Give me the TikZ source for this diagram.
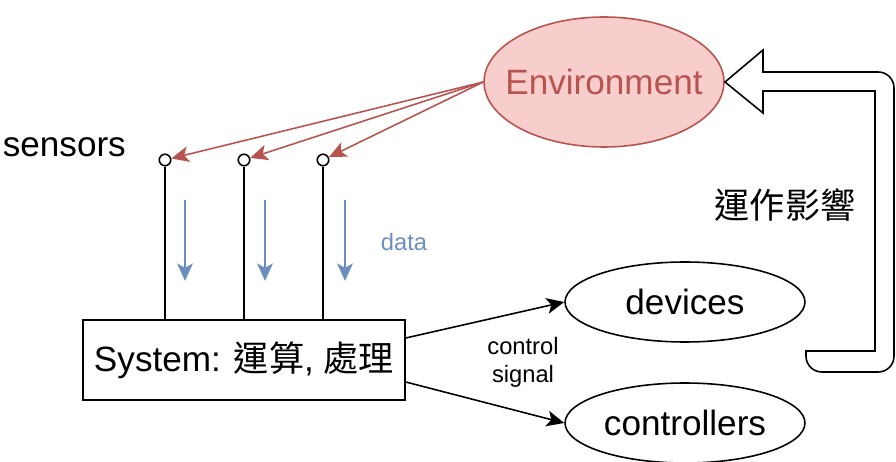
\documentclass[tikz,border=0pt]{standalone}
\usepackage{fontspec}
\setmainfont{Liberation Sans}
\newfontfamily\cjk{Noto Sans CJK TC}
\usepackage{tikz}
\usetikzlibrary{arrows.meta,positioning,calc,shapes.geometric}
\definecolor{envred}{HTML}{B85450}
\definecolor{envfill}{HTML}{F8CECC}
\definecolor{datablue}{HTML}{6C8EBF}

\begin{document}
\begin{tikzpicture}[x=0.02cm,y=-0.02cm,line width=0.9pt,>={Stealth[length=10pt,width=9pt,inset=2.5pt]},
  blob/.style={ellipse,draw,inner sep=0pt,minimum width=4.8cm,minimum height=1.6cm,font=\fontsize{20}{24}\selectfont},
  sensor/.style={circle,draw,fill=white,inner sep=0pt,minimum size=0.23cm,line width=0.9pt},
  big/.style={font=\fontsize{20}{24}\selectfont},
  small/.style={font=\fontsize{13.5}{16}\selectfont,align=center}]

\useasboundingbox (0,0) rectangle (896,462);

% environment
\node[blob,fill=envfill,draw=envred,text=envred,inner xsep=-0.35cm,minimum height=2.6cm] (env) at (604,82) {Environment};

% system and outputs
\node[draw,big,inner sep=0pt,minimum width=6.44cm,minimum height=1.6cm] (sys) at (244,360) {System: {\cjk 運算}, {\cjk 處理}};
\node[blob] (dev) at (685,302) {devices};
\node[blob] (ctrl) at (685,423) {controllers};

% sensors
\node[big,anchor=west,inner sep=0pt] (sens-label) at (2,147) {sensors};
\node[sensor] (s1) at (165,160) {};
\node[sensor] (s2) at (244,160) {};
\node[sensor] (s3) at (323,160) {};

\foreach \s in {s1,s2,s3}{
  \draw (\s.south) -- (\s |- sys.north);
  \draw[->,envred] (env.west) -- (\s);
}

% data flow
\foreach \x in {185,265,345}
  \draw[->,datablue] (\x,200) -- (\x,281);
\node[small,text=datablue] (data) at (404,242) {data};

% control signal
\draw[->] ($(sys.east)+(0,-22)$) -- (dev.west);
\draw[->] ($(sys.east)+(0,22)$) -- (ctrl.west);
\node[small] (sig) at (523,362) {control\\signal};

% feedback arrow
\draw (806,351) -- (875,351) -- (875,91) -- (763,91) -- (763,113) -- (725,82) -- (763,50) -- (763,72)
  [rounded corners=9pt] -- (894,72) -- (894,372) -- (806,372) [sharp corners] -- cycle;
\node[big] (effect) at (785,205) {\cjk 運作影響};

\end{tikzpicture}
\end{document}
